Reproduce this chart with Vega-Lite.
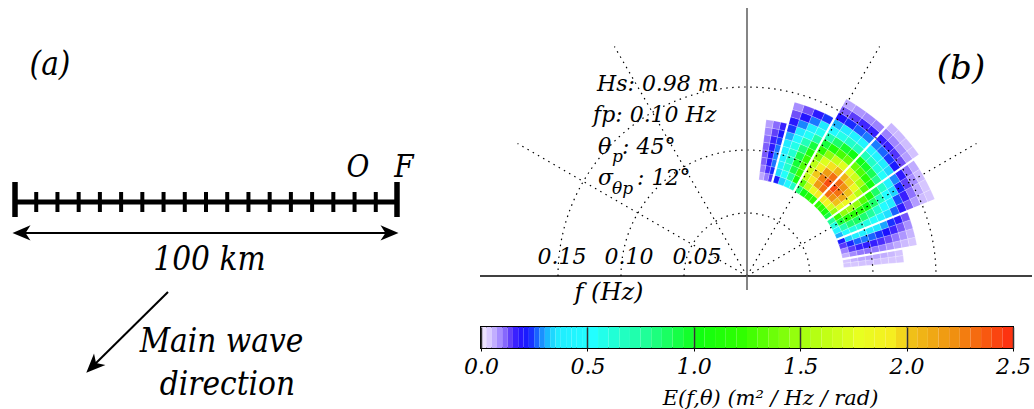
{
"$schema": "https://vega.github.io/schema/vega-lite/v6.json",
"padding": 0,
"bounds": "flush",
"spacing": 0,
"config": {"view": {"stroke": null}},
"hconcat": [
{
"width": 481, "height": 409,
"layer": [
{"data": {"values": [{"x1": 0, "x2": 100, "y": 0}]},
 "mark": {"type": "rule", "strokeWidth": 5, "color": "black"},
 "encoding": {"x": {"field": "x1", "type": "quantitative", "scale": {"domain": [-3.927, 121.99], "nice": false, "zero": false}, "axis": null}, "x2": {"field": "x2"},
  "y": {"field": "y", "type": "quantitative", "scale": {"domain": [-54.19, 52.88], "nice": false, "zero": false}, "axis": null}}},
{"data": {"values": [{"km": 0}, {"km": 100}]},
 "mark": {"type": "rule", "strokeWidth": 5.5, "color": "black"},
 "encoding": {"x": {"field": "km", "type": "quantitative", "scale": {"domain": [-3.927, 121.99], "nice": false, "zero": false}, "axis": null},
  "y": {"datum": -3.93, "type": "quantitative", "scale": {"domain": [-54.19, 52.88], "nice": false, "zero": false}, "axis": null}, "y2": {"datum": 5.24}}},
{"data": {"values": [{"km": 5.556}, {"km": 11.111}, {"km": 16.667}, {"km": 22.222}, {"km": 27.778}, {"km": 33.333}, {"km": 38.889}, {"km": 44.444}, {"km": 50}, {"km": 55.556}, {"km": 61.111}, {"km": 66.667}, {"km": 72.222}, {"km": 77.778}, {"km": 83.333}, {"km": 88.889}, {"km": 94.444}]},
 "mark": {"type": "rule", "strokeWidth": 4, "color": "black"},
 "encoding": {"x": {"field": "km", "type": "quantitative", "scale": {"domain": [-3.927, 121.99], "nice": false, "zero": false}, "axis": null},
  "y": {"datum": -2.62, "type": "quantitative", "scale": {"domain": [-54.19, 52.88], "nice": false, "zero": false}, "axis": null}, "y2": {"datum": 2.62}}},
{"data": {"values": [{"x1": 0.5, "x2": 99.5, "y": -8.1}]},
 "mark": {"type": "rule", "strokeWidth": 2, "color": "black"},
 "encoding": {"x": {"field": "x1", "type": "quantitative", "scale": {"domain": [-3.927, 121.99], "nice": false, "zero": false}, "axis": null}, "x2": {"field": "x2"},
  "y": {"field": "y", "type": "quantitative", "scale": {"domain": [-54.19, 52.88], "nice": false, "zero": false}, "axis": null}}},
{"data": {"values": [{"x1": 40.05, "y1": -23.56, "x2": 20.42, "y2": -42.93}]},
 "mark": {"type": "rule", "strokeWidth": 2, "color": "black"},
 "encoding": {"x": {"field": "x1", "type": "quantitative", "scale": {"domain": [-3.927, 121.99], "nice": false, "zero": false}, "axis": null}, "x2": {"field": "x2"},
  "y": {"field": "y1", "type": "quantitative", "scale": {"domain": [-54.19, 52.88], "nice": false, "zero": false}, "axis": null}, "y2": {"field": "y2"}}},
{"data": {"values": [{"x": 1.7, "y": -8.1}]},
 "mark": {"type": "point", "shape": "M -1 0 L 1 -0.85 L 0.45 0 L 1 0.85 Z", "filled": true, "color": "black", "size": 324, "opacity": 1},
 "encoding": {"x": {"field": "x", "type": "quantitative", "scale": {"domain": [-3.927, 121.99], "nice": false, "zero": false}, "axis": null},
  "y": {"field": "y", "type": "quantitative", "scale": {"domain": [-54.19, 52.88], "nice": false, "zero": false}, "axis": null}}},
{"data": {"values": [{"x": 98.04, "y": -8.1}]},
 "mark": {"type": "point", "shape": "M -1 0 L 1 -0.85 L 0.45 0 L 1 0.85 Z", "filled": true, "color": "black", "size": 324, "opacity": 1, "angle": 180},
 "encoding": {"x": {"field": "x", "type": "quantitative", "scale": {"domain": [-3.927, 121.99], "nice": false, "zero": false}, "axis": null},
  "y": {"field": "y", "type": "quantitative", "scale": {"domain": [-54.19, 52.88], "nice": false, "zero": false}, "axis": null}}},
{"data": {"values": [{"x": 20.42, "y": -42.93}]},
 "mark": {"type": "point", "shape": "M -1 0 L 1 -0.85 L 0.45 0 L 1 0.85 Z", "filled": true, "color": "black", "size": 361, "opacity": 1, "angle": 315},
 "encoding": {"x": {"field": "x", "type": "quantitative", "scale": {"domain": [-3.927, 121.99], "nice": false, "zero": false}, "axis": null},
  "y": {"field": "y", "type": "quantitative", "scale": {"domain": [-54.19, 52.88], "nice": false, "zero": false}, "axis": null}}},
{"data": {"values": [{"x": 9.16, "y": 33.25, "t": "(a)"}, {"x": 50.9, "y": -17.8, "t": "100 km"}, {"x": 54.06, "y": -39.27, "t": "Main wave"}, {"x": 55.6, "y": -50.5, "t": "direction"}]},
 "mark": {"type": "text", "font": "DejaVu Serif Condensed, DejaVu Serif", "fontStyle": "italic", "fontSize": 33, "align": "center", "baseline": "alphabetic", "color": "black"},
 "encoding": {"x": {"field": "x", "type": "quantitative", "scale": {"domain": [-3.927, 121.99], "nice": false, "zero": false}, "axis": null},
  "y": {"field": "y", "type": "quantitative", "scale": {"domain": [-54.19, 52.88], "nice": false, "zero": false}, "axis": null}, "text": {"field": "t"}}},
{"data": {"values": [{"x": 89.8, "y": 6.54, "t": "O"}, {"x": 101.8, "y": 6.54, "t": "F"}]},
 "mark": {"type": "text", "font": "DejaVu Serif Condensed, DejaVu Serif", "fontStyle": "italic", "fontSize": 31, "align": "center", "baseline": "alphabetic", "color": "black"},
 "encoding": {"x": {"field": "x", "type": "quantitative", "scale": {"domain": [-3.927, 121.99], "nice": false, "zero": false}, "axis": null},
  "y": {"field": "y", "type": "quantitative", "scale": {"domain": [-54.19, 52.88], "nice": false, "zero": false}, "axis": null}, "text": {"field": "t"}}}
]
},
{
"spacing": 0,
"bounds": "flush",
"vconcat": [
{
"width": 553, "height": 327,
"layer": [
{"data": {"values": [
{"a0":5,"a1":7.5,"f0":0.077,"f1":0.083,"E":0.03},{"a0":5,"a1":7.5,"f0":0.083,"f1":0.089,"E":0.03},{"a0":5,"a1":7.5,"f0":0.089,"f1":0.095,"E":0.034},{"a0":5,"a1":7.5,"f0":0.095,"f1":0.101,"E":0.035},{"a0":5,"a1":7.5,"f0":0.101,"f1":0.107,"E":0.034},{"a0":5,"a1":7.5,"f0":0.107,"f1":0.113,"E":0.03},{"a0":5,"a1":7.5,"f0":0.113,"f1":0.119,"E":0.03},{"a0":5,"a1":7.5,"f0":0.119,"f1":0.125,"E":0.03},
{"a0":7.5,"a1":10,"f0":0.077,"f1":0.083,"E":0.03},{"a0":7.5,"a1":10,"f0":0.083,"f1":0.089,"E":0.046},{"a0":7.5,"a1":10,"f0":0.089,"f1":0.095,"E":0.056},{"a0":7.5,"a1":10,"f0":0.095,"f1":0.101,"E":0.058},{"a0":7.5,"a1":10,"f0":0.101,"f1":0.107,"E":0.056},{"a0":7.5,"a1":10,"f0":0.107,"f1":0.113,"E":0.05},{"a0":7.5,"a1":10,"f0":0.113,"f1":0.119,"E":0.042},{"a0":7.5,"a1":10,"f0":0.119,"f1":0.125,"E":0.032},
{"a0":10,"a1":13,"f0":0.077,"f1":0.083,"E":0.048},{"a0":10,"a1":13,"f0":0.083,"f1":0.089,"E":0.077},{"a0":10,"a1":13,"f0":0.089,"f1":0.095,"E":0.092},{"a0":10,"a1":13,"f0":0.095,"f1":0.101,"E":0.096},{"a0":10,"a1":13,"f0":0.101,"f1":0.107,"E":0.092},{"a0":10,"a1":13,"f0":0.107,"f1":0.113,"E":0.083},{"a0":10,"a1":13,"f0":0.113,"f1":0.119,"E":0.069},{"a0":10,"a1":13,"f0":0.119,"f1":0.125,"E":0.054},{"a0":10,"a1":13,"f0":0.125,"f1":0.131,"E":0.04},{"a0":10,"a1":13,"f0":0.131,"f1":0.137,"E":0.03},
{"a0":13,"a1":16,"f0":0.077,"f1":0.083,"E":0.082},{"a0":13,"a1":16,"f0":0.083,"f1":0.089,"E":0.13},{"a0":13,"a1":16,"f0":0.089,"f1":0.095,"E":0.156},{"a0":13,"a1":16,"f0":0.095,"f1":0.101,"E":0.163},{"a0":13,"a1":16,"f0":0.101,"f1":0.107,"E":0.156},{"a0":13,"a1":16,"f0":0.107,"f1":0.113,"E":0.14},{"a0":13,"a1":16,"f0":0.113,"f1":0.119,"E":0.117},{"a0":13,"a1":16,"f0":0.119,"f1":0.125,"E":0.091},{"a0":13,"a1":16,"f0":0.125,"f1":0.131,"E":0.068},{"a0":13,"a1":16,"f0":0.131,"f1":0.137,"E":0.046},
{"a0":16,"a1":19,"f0":0.077,"f1":0.083,"E":0.131},{"a0":16,"a1":19,"f0":0.083,"f1":0.089,"E":0.21},{"a0":16,"a1":19,"f0":0.089,"f1":0.095,"E":0.25},{"a0":16,"a1":19,"f0":0.095,"f1":0.101,"E":0.262},{"a0":16,"a1":19,"f0":0.101,"f1":0.107,"E":0.25},{"a0":16,"a1":19,"f0":0.107,"f1":0.113,"E":0.225},{"a0":16,"a1":19,"f0":0.113,"f1":0.119,"E":0.189},{"a0":16,"a1":19,"f0":0.119,"f1":0.125,"E":0.147},{"a0":16,"a1":19,"f0":0.125,"f1":0.131,"E":0.11},{"a0":16,"a1":19,"f0":0.131,"f1":0.137,"E":0.073},
{"a0":19,"a1":22,"f0":0.077,"f1":0.083,"E":0.2},{"a0":19,"a1":22,"f0":0.083,"f1":0.089,"E":0.32},{"a0":19,"a1":22,"f0":0.089,"f1":0.095,"E":0.384},{"a0":19,"a1":22,"f0":0.095,"f1":0.101,"E":0.4},{"a0":19,"a1":22,"f0":0.101,"f1":0.107,"E":0.384},{"a0":19,"a1":22,"f0":0.107,"f1":0.113,"E":0.344},{"a0":19,"a1":22,"f0":0.113,"f1":0.119,"E":0.288},{"a0":19,"a1":22,"f0":0.119,"f1":0.125,"E":0.224},{"a0":19,"a1":22,"f0":0.125,"f1":0.131,"E":0.168},{"a0":19,"a1":22,"f0":0.131,"f1":0.137,"E":0.112},
{"a0":22,"a1":25.25,"f0":0.077,"f1":0.083,"E":0.297},{"a0":22,"a1":25.25,"f0":0.083,"f1":0.089,"E":0.474},{"a0":22,"a1":25.25,"f0":0.089,"f1":0.095,"E":0.569},{"a0":22,"a1":25.25,"f0":0.095,"f1":0.101,"E":0.593},{"a0":22,"a1":25.25,"f0":0.101,"f1":0.107,"E":0.569},{"a0":22,"a1":25.25,"f0":0.107,"f1":0.113,"E":0.51},{"a0":22,"a1":25.25,"f0":0.113,"f1":0.119,"E":0.427},{"a0":22,"a1":25.25,"f0":0.119,"f1":0.125,"E":0.332},{"a0":22,"a1":25.25,"f0":0.125,"f1":0.131,"E":0.249},{"a0":22,"a1":25.25,"f0":0.131,"f1":0.137,"E":0.166},{"a0":22,"a1":25.25,"f0":0.137,"f1":0.143,"E":0.107},{"a0":22,"a1":25.25,"f0":0.143,"f1":0.149,"E":0.065},{"a0":22,"a1":25.25,"f0":0.149,"f1":0.155,"E":0.039},{"a0":22,"a1":25.25,"f0":0.155,"f1":0.161,"E":0.03},
{"a0":25.25,"a1":28.5,"f0":0.077,"f1":0.083,"E":0.429},{"a0":25.25,"a1":28.5,"f0":0.083,"f1":0.089,"E":0.686},{"a0":25.25,"a1":28.5,"f0":0.089,"f1":0.095,"E":0.823},{"a0":25.25,"a1":28.5,"f0":0.095,"f1":0.101,"E":0.857},{"a0":25.25,"a1":28.5,"f0":0.101,"f1":0.107,"E":0.823},{"a0":25.25,"a1":28.5,"f0":0.107,"f1":0.113,"E":0.737},{"a0":25.25,"a1":28.5,"f0":0.113,"f1":0.119,"E":0.617},{"a0":25.25,"a1":28.5,"f0":0.119,"f1":0.125,"E":0.48},{"a0":25.25,"a1":28.5,"f0":0.125,"f1":0.131,"E":0.36},{"a0":25.25,"a1":28.5,"f0":0.131,"f1":0.137,"E":0.24},{"a0":25.25,"a1":28.5,"f0":0.137,"f1":0.143,"E":0.154},{"a0":25.25,"a1":28.5,"f0":0.143,"f1":0.149,"E":0.094},{"a0":25.25,"a1":28.5,"f0":0.149,"f1":0.155,"E":0.056},{"a0":25.25,"a1":28.5,"f0":0.155,"f1":0.161,"E":0.03},
{"a0":28.5,"a1":31.75,"f0":0.077,"f1":0.083,"E":0.579},{"a0":28.5,"a1":31.75,"f0":0.083,"f1":0.089,"E":0.926},{"a0":28.5,"a1":31.75,"f0":0.089,"f1":0.095,"E":1.111},{"a0":28.5,"a1":31.75,"f0":0.095,"f1":0.101,"E":1.157},{"a0":28.5,"a1":31.75,"f0":0.101,"f1":0.107,"E":1.111},{"a0":28.5,"a1":31.75,"f0":0.107,"f1":0.113,"E":0.995},{"a0":28.5,"a1":31.75,"f0":0.113,"f1":0.119,"E":0.833},{"a0":28.5,"a1":31.75,"f0":0.119,"f1":0.125,"E":0.648},{"a0":28.5,"a1":31.75,"f0":0.125,"f1":0.131,"E":0.486},{"a0":28.5,"a1":31.75,"f0":0.131,"f1":0.137,"E":0.324},{"a0":28.5,"a1":31.75,"f0":0.137,"f1":0.143,"E":0.208},{"a0":28.5,"a1":31.75,"f0":0.143,"f1":0.149,"E":0.127},{"a0":28.5,"a1":31.75,"f0":0.149,"f1":0.155,"E":0.075},{"a0":28.5,"a1":31.75,"f0":0.155,"f1":0.161,"E":0.04},
{"a0":31.75,"a1":35,"f0":0.077,"f1":0.083,"E":0.749},{"a0":31.75,"a1":35,"f0":0.083,"f1":0.089,"E":1.198},{"a0":31.75,"a1":35,"f0":0.089,"f1":0.095,"E":1.438},{"a0":31.75,"a1":35,"f0":0.095,"f1":0.101,"E":1.498},{"a0":31.75,"a1":35,"f0":0.101,"f1":0.107,"E":1.438},{"a0":31.75,"a1":35,"f0":0.107,"f1":0.113,"E":1.288},{"a0":31.75,"a1":35,"f0":0.113,"f1":0.119,"E":1.079},{"a0":31.75,"a1":35,"f0":0.119,"f1":0.125,"E":0.839},{"a0":31.75,"a1":35,"f0":0.125,"f1":0.131,"E":0.629},{"a0":31.75,"a1":35,"f0":0.131,"f1":0.137,"E":0.419},{"a0":31.75,"a1":35,"f0":0.137,"f1":0.143,"E":0.27},{"a0":31.75,"a1":35,"f0":0.143,"f1":0.149,"E":0.165},{"a0":31.75,"a1":35,"f0":0.149,"f1":0.155,"E":0.097},{"a0":31.75,"a1":35,"f0":0.155,"f1":0.161,"E":0.052},
{"a0":35,"a1":38,"f0":0.077,"f1":0.083,"E":0.905},{"a0":35,"a1":38,"f0":0.083,"f1":0.089,"E":1.448},{"a0":35,"a1":38,"f0":0.089,"f1":0.095,"E":1.738},{"a0":35,"a1":38,"f0":0.095,"f1":0.101,"E":1.81},{"a0":35,"a1":38,"f0":0.101,"f1":0.107,"E":1.738},{"a0":35,"a1":38,"f0":0.107,"f1":0.113,"E":1.557},{"a0":35,"a1":38,"f0":0.113,"f1":0.119,"E":1.303},{"a0":35,"a1":38,"f0":0.119,"f1":0.125,"E":1.014},{"a0":35,"a1":38,"f0":0.125,"f1":0.131,"E":0.76},{"a0":35,"a1":38,"f0":0.131,"f1":0.137,"E":0.507},{"a0":35,"a1":38,"f0":0.137,"f1":0.143,"E":0.326},{"a0":35,"a1":38,"f0":0.143,"f1":0.149,"E":0.199},{"a0":35,"a1":38,"f0":0.149,"f1":0.155,"E":0.118},{"a0":35,"a1":38,"f0":0.155,"f1":0.161,"E":0.063},{"a0":35,"a1":38,"f0":0.161,"f1":0.167,"E":0.033},
{"a0":38,"a1":41,"f0":0.077,"f1":0.083,"E":1.04},{"a0":38,"a1":41,"f0":0.083,"f1":0.089,"E":1.664},{"a0":38,"a1":41,"f0":0.089,"f1":0.095,"E":1.997},{"a0":38,"a1":41,"f0":0.095,"f1":0.101,"E":2.08},{"a0":38,"a1":41,"f0":0.101,"f1":0.107,"E":1.997},{"a0":38,"a1":41,"f0":0.107,"f1":0.113,"E":1.789},{"a0":38,"a1":41,"f0":0.113,"f1":0.119,"E":1.498},{"a0":38,"a1":41,"f0":0.119,"f1":0.125,"E":1.165},{"a0":38,"a1":41,"f0":0.125,"f1":0.131,"E":0.874},{"a0":38,"a1":41,"f0":0.131,"f1":0.137,"E":0.582},{"a0":38,"a1":41,"f0":0.137,"f1":0.143,"E":0.374},{"a0":38,"a1":41,"f0":0.143,"f1":0.149,"E":0.229},{"a0":38,"a1":41,"f0":0.149,"f1":0.155,"E":0.135},{"a0":38,"a1":41,"f0":0.155,"f1":0.161,"E":0.073},{"a0":38,"a1":41,"f0":0.161,"f1":0.167,"E":0.037},
{"a0":41,"a1":44,"f0":0.077,"f1":0.083,"E":1.14},{"a0":41,"a1":44,"f0":0.083,"f1":0.089,"E":1.824},{"a0":41,"a1":44,"f0":0.089,"f1":0.095,"E":2.189},{"a0":41,"a1":44,"f0":0.095,"f1":0.101,"E":2.28},{"a0":41,"a1":44,"f0":0.101,"f1":0.107,"E":2.189},{"a0":41,"a1":44,"f0":0.107,"f1":0.113,"E":1.961},{"a0":41,"a1":44,"f0":0.113,"f1":0.119,"E":1.642},{"a0":41,"a1":44,"f0":0.119,"f1":0.125,"E":1.277},{"a0":41,"a1":44,"f0":0.125,"f1":0.131,"E":0.958},{"a0":41,"a1":44,"f0":0.131,"f1":0.137,"E":0.638},{"a0":41,"a1":44,"f0":0.137,"f1":0.143,"E":0.41},{"a0":41,"a1":44,"f0":0.143,"f1":0.149,"E":0.251},{"a0":41,"a1":44,"f0":0.149,"f1":0.155,"E":0.148},{"a0":41,"a1":44,"f0":0.155,"f1":0.161,"E":0.08},{"a0":41,"a1":44,"f0":0.161,"f1":0.167,"E":0.041},
{"a0":44,"a1":47,"f0":0.077,"f1":0.083,"E":1.195},{"a0":44,"a1":47,"f0":0.083,"f1":0.089,"E":1.912},{"a0":44,"a1":47,"f0":0.089,"f1":0.095,"E":2.294},{"a0":44,"a1":47,"f0":0.095,"f1":0.101,"E":2.39},{"a0":44,"a1":47,"f0":0.101,"f1":0.107,"E":2.294},{"a0":44,"a1":47,"f0":0.107,"f1":0.113,"E":2.055},{"a0":44,"a1":47,"f0":0.113,"f1":0.119,"E":1.721},{"a0":44,"a1":47,"f0":0.119,"f1":0.125,"E":1.338},{"a0":44,"a1":47,"f0":0.125,"f1":0.131,"E":1.004},{"a0":44,"a1":47,"f0":0.131,"f1":0.137,"E":0.669},{"a0":44,"a1":47,"f0":0.137,"f1":0.143,"E":0.43},{"a0":44,"a1":47,"f0":0.143,"f1":0.149,"E":0.263},{"a0":44,"a1":47,"f0":0.149,"f1":0.155,"E":0.155},{"a0":44,"a1":47,"f0":0.155,"f1":0.161,"E":0.084},{"a0":44,"a1":47,"f0":0.161,"f1":0.167,"E":0.043},
{"a0":47,"a1":50.5,"f0":0.077,"f1":0.083,"E":1.19},{"a0":47,"a1":50.5,"f0":0.083,"f1":0.089,"E":1.904},{"a0":47,"a1":50.5,"f0":0.089,"f1":0.095,"E":2.285},{"a0":47,"a1":50.5,"f0":0.095,"f1":0.101,"E":2.38},{"a0":47,"a1":50.5,"f0":0.101,"f1":0.107,"E":2.285},{"a0":47,"a1":50.5,"f0":0.107,"f1":0.113,"E":2.047},{"a0":47,"a1":50.5,"f0":0.113,"f1":0.119,"E":1.714},{"a0":47,"a1":50.5,"f0":0.119,"f1":0.125,"E":1.333},{"a0":47,"a1":50.5,"f0":0.125,"f1":0.131,"E":1.0},{"a0":47,"a1":50.5,"f0":0.131,"f1":0.137,"E":0.666},{"a0":47,"a1":50.5,"f0":0.137,"f1":0.143,"E":0.428},{"a0":47,"a1":50.5,"f0":0.143,"f1":0.149,"E":0.262},{"a0":47,"a1":50.5,"f0":0.149,"f1":0.155,"E":0.155},{"a0":47,"a1":50.5,"f0":0.155,"f1":0.161,"E":0.083},
{"a0":50.5,"a1":54,"f0":0.077,"f1":0.083,"E":1.12},{"a0":50.5,"a1":54,"f0":0.083,"f1":0.089,"E":1.792},{"a0":50.5,"a1":54,"f0":0.089,"f1":0.095,"E":2.15},{"a0":50.5,"a1":54,"f0":0.095,"f1":0.101,"E":2.24},{"a0":50.5,"a1":54,"f0":0.101,"f1":0.107,"E":2.15},{"a0":50.5,"a1":54,"f0":0.107,"f1":0.113,"E":1.926},{"a0":50.5,"a1":54,"f0":0.113,"f1":0.119,"E":1.613},{"a0":50.5,"a1":54,"f0":0.119,"f1":0.125,"E":1.254},{"a0":50.5,"a1":54,"f0":0.125,"f1":0.131,"E":0.941},{"a0":50.5,"a1":54,"f0":0.131,"f1":0.137,"E":0.627},{"a0":50.5,"a1":54,"f0":0.137,"f1":0.143,"E":0.403},{"a0":50.5,"a1":54,"f0":0.143,"f1":0.149,"E":0.246},{"a0":50.5,"a1":54,"f0":0.149,"f1":0.155,"E":0.146},{"a0":50.5,"a1":54,"f0":0.155,"f1":0.161,"E":0.078},
{"a0":54,"a1":57.5,"f0":0.077,"f1":0.083,"E":0.99},{"a0":54,"a1":57.5,"f0":0.083,"f1":0.089,"E":1.584},{"a0":54,"a1":57.5,"f0":0.089,"f1":0.095,"E":1.901},{"a0":54,"a1":57.5,"f0":0.095,"f1":0.101,"E":1.98},{"a0":54,"a1":57.5,"f0":0.101,"f1":0.107,"E":1.901},{"a0":54,"a1":57.5,"f0":0.107,"f1":0.113,"E":1.703},{"a0":54,"a1":57.5,"f0":0.113,"f1":0.119,"E":1.426},{"a0":54,"a1":57.5,"f0":0.119,"f1":0.125,"E":1.109},{"a0":54,"a1":57.5,"f0":0.125,"f1":0.131,"E":0.832},{"a0":54,"a1":57.5,"f0":0.131,"f1":0.137,"E":0.554},{"a0":54,"a1":57.5,"f0":0.137,"f1":0.143,"E":0.356},{"a0":54,"a1":57.5,"f0":0.143,"f1":0.149,"E":0.218},{"a0":54,"a1":57.5,"f0":0.149,"f1":0.155,"E":0.129},{"a0":54,"a1":57.5,"f0":0.155,"f1":0.161,"E":0.069},
{"a0":57.5,"a1":61,"f0":0.077,"f1":0.083,"E":0.82},{"a0":57.5,"a1":61,"f0":0.083,"f1":0.089,"E":1.312},{"a0":57.5,"a1":61,"f0":0.089,"f1":0.095,"E":1.574},{"a0":57.5,"a1":61,"f0":0.095,"f1":0.101,"E":1.64},{"a0":57.5,"a1":61,"f0":0.101,"f1":0.107,"E":1.574},{"a0":57.5,"a1":61,"f0":0.107,"f1":0.113,"E":1.41},{"a0":57.5,"a1":61,"f0":0.113,"f1":0.119,"E":1.181},{"a0":57.5,"a1":61,"f0":0.119,"f1":0.125,"E":0.918},{"a0":57.5,"a1":61,"f0":0.125,"f1":0.131,"E":0.689},{"a0":57.5,"a1":61,"f0":0.131,"f1":0.137,"E":0.459},{"a0":57.5,"a1":61,"f0":0.137,"f1":0.143,"E":0.295},{"a0":57.5,"a1":61,"f0":0.143,"f1":0.149,"E":0.18},{"a0":57.5,"a1":61,"f0":0.149,"f1":0.155,"E":0.107},{"a0":57.5,"a1":61,"f0":0.155,"f1":0.161,"E":0.057},
{"a0":61,"a1":64.5,"f0":0.077,"f1":0.083,"E":0.635},{"a0":61,"a1":64.5,"f0":0.083,"f1":0.089,"E":1.016},{"a0":61,"a1":64.5,"f0":0.089,"f1":0.095,"E":1.219},{"a0":61,"a1":64.5,"f0":0.095,"f1":0.101,"E":1.27},{"a0":61,"a1":64.5,"f0":0.101,"f1":0.107,"E":1.219},{"a0":61,"a1":64.5,"f0":0.107,"f1":0.113,"E":1.092},{"a0":61,"a1":64.5,"f0":0.113,"f1":0.119,"E":0.914},{"a0":61,"a1":64.5,"f0":0.119,"f1":0.125,"E":0.711},{"a0":61,"a1":64.5,"f0":0.125,"f1":0.131,"E":0.533},{"a0":61,"a1":64.5,"f0":0.131,"f1":0.137,"E":0.356},{"a0":61,"a1":64.5,"f0":0.137,"f1":0.143,"E":0.229},
{"a0":64.5,"a1":68,"f0":0.077,"f1":0.083,"E":0.465},{"a0":64.5,"a1":68,"f0":0.083,"f1":0.089,"E":0.744},{"a0":64.5,"a1":68,"f0":0.089,"f1":0.095,"E":0.893},{"a0":64.5,"a1":68,"f0":0.095,"f1":0.101,"E":0.93},{"a0":64.5,"a1":68,"f0":0.101,"f1":0.107,"E":0.893},{"a0":64.5,"a1":68,"f0":0.107,"f1":0.113,"E":0.8},{"a0":64.5,"a1":68,"f0":0.113,"f1":0.119,"E":0.67},{"a0":64.5,"a1":68,"f0":0.119,"f1":0.125,"E":0.521},{"a0":64.5,"a1":68,"f0":0.125,"f1":0.131,"E":0.391},{"a0":64.5,"a1":68,"f0":0.131,"f1":0.137,"E":0.26},{"a0":64.5,"a1":68,"f0":0.137,"f1":0.143,"E":0.167},
{"a0":68,"a1":71.5,"f0":0.077,"f1":0.083,"E":0.32},{"a0":68,"a1":71.5,"f0":0.083,"f1":0.089,"E":0.512},{"a0":68,"a1":71.5,"f0":0.089,"f1":0.095,"E":0.614},{"a0":68,"a1":71.5,"f0":0.095,"f1":0.101,"E":0.64},{"a0":68,"a1":71.5,"f0":0.101,"f1":0.107,"E":0.614},{"a0":68,"a1":71.5,"f0":0.107,"f1":0.113,"E":0.55},{"a0":68,"a1":71.5,"f0":0.113,"f1":0.119,"E":0.461},{"a0":68,"a1":71.5,"f0":0.119,"f1":0.125,"E":0.358},{"a0":68,"a1":71.5,"f0":0.125,"f1":0.131,"E":0.269},{"a0":68,"a1":71.5,"f0":0.131,"f1":0.137,"E":0.179},{"a0":68,"a1":71.5,"f0":0.137,"f1":0.143,"E":0.115},
{"a0":71.5,"a1":75,"f0":0.077,"f1":0.083,"E":0.205},{"a0":71.5,"a1":75,"f0":0.083,"f1":0.089,"E":0.328},{"a0":71.5,"a1":75,"f0":0.089,"f1":0.095,"E":0.394},{"a0":71.5,"a1":75,"f0":0.095,"f1":0.101,"E":0.41},{"a0":71.5,"a1":75,"f0":0.101,"f1":0.107,"E":0.394},{"a0":71.5,"a1":75,"f0":0.107,"f1":0.113,"E":0.353},{"a0":71.5,"a1":75,"f0":0.113,"f1":0.119,"E":0.295},{"a0":71.5,"a1":75,"f0":0.119,"f1":0.125,"E":0.23},{"a0":71.5,"a1":75,"f0":0.125,"f1":0.131,"E":0.172},{"a0":71.5,"a1":75,"f0":0.131,"f1":0.137,"E":0.115},{"a0":71.5,"a1":75,"f0":0.137,"f1":0.143,"E":0.074},
{"a0":75,"a1":77.67,"f0":0.077,"f1":0.083,"E":0.135},{"a0":75,"a1":77.67,"f0":0.083,"f1":0.089,"E":0.216},{"a0":75,"a1":77.67,"f0":0.089,"f1":0.095,"E":0.259},{"a0":75,"a1":77.67,"f0":0.095,"f1":0.101,"E":0.27},{"a0":75,"a1":77.67,"f0":0.101,"f1":0.107,"E":0.259},{"a0":75,"a1":77.67,"f0":0.107,"f1":0.113,"E":0.232},{"a0":75,"a1":77.67,"f0":0.113,"f1":0.119,"E":0.194},{"a0":75,"a1":77.67,"f0":0.119,"f1":0.125,"E":0.151},
{"a0":77.67,"a1":80.33,"f0":0.077,"f1":0.083,"E":0.088},{"a0":77.67,"a1":80.33,"f0":0.083,"f1":0.089,"E":0.14},{"a0":77.67,"a1":80.33,"f0":0.089,"f1":0.095,"E":0.168},{"a0":77.67,"a1":80.33,"f0":0.095,"f1":0.101,"E":0.175},{"a0":77.67,"a1":80.33,"f0":0.101,"f1":0.107,"E":0.168},{"a0":77.67,"a1":80.33,"f0":0.107,"f1":0.113,"E":0.151},{"a0":77.67,"a1":80.33,"f0":0.113,"f1":0.119,"E":0.126},{"a0":77.67,"a1":80.33,"f0":0.119,"f1":0.125,"E":0.098},
{"a0":80.33,"a1":83,"f0":0.077,"f1":0.083,"E":0.055},{"a0":80.33,"a1":83,"f0":0.083,"f1":0.089,"E":0.088},{"a0":80.33,"a1":83,"f0":0.089,"f1":0.095,"E":0.106},{"a0":80.33,"a1":83,"f0":0.095,"f1":0.101,"E":0.11},{"a0":80.33,"a1":83,"f0":0.101,"f1":0.107,"E":0.106},{"a0":80.33,"a1":83,"f0":0.107,"f1":0.113,"E":0.095},{"a0":80.33,"a1":83,"f0":0.113,"f1":0.119,"E":0.079},{"a0":80.33,"a1":83,"f0":0.119,"f1":0.125,"E":0.062}
]},
 "mark": {"type": "arc", "stroke": "white", "strokeWidth": 0.4, "strokeOpacity": 0.5},
 "encoding": {
  "x": {"datum": 0, "type": "quantitative", "scale": {"domain": [-0.211111, 0.227778], "nice": false, "zero": false}, "axis": null},
  "y": {"datum": 0, "type": "quantitative", "scale": {"domain": [-0.040476, 0.219048], "nice": false, "zero": false}, "axis": null},
  "theta": {"field": "a0", "type": "quantitative", "stack": null, "scale": {"type": "linear", "domain": [0, 360], "range": [1.5707963, -4.712389], "zero": false, "nice": false}},
  "theta2": {"field": "a1"},
  "radius": {"field": "f0", "type": "quantitative", "scale": {"type": "linear", "domain": [0, 0.15], "range": [0, 189], "zero": true, "nice": false}},
  "radius2": {"field": "f1"},
  "color": {"field": "E", "type": "quantitative", "legend": null, "scale": {"type": "linear", "interpolate": "rgb", "domain": [0, 0.03, 0.06, 0.09, 0.12, 0.15, 0.19, 0.23, 0.26, 0.3, 0.34, 0.5, 0.75, 1.0, 1.2, 1.5, 1.75, 1.9, 2.0, 2.2, 2.5], "range": ["#ede2ff", "#d6c6ff", "#b8a2ff", "#9478ff", "#6a48f8", "#3a20ff", "#1a10ff", "#1838ff", "#1a78ff", "#1ab8ff", "#20eaff", "#22ffff", "#20ff98", "#10ff10", "#30ff00", "#a8ff10", "#e8ff20", "#f5ee20", "#f0c018", "#f09010", "#ff2010"]}}
 }},
{"data": {"values": [{"a0": 10, "a1": 10, "f0": 0.075, "f1": 0.168}, {"a0": 22, "a1": 22, "f0": 0.075, "f1": 0.168}, {"a0": 35, "a1": 35, "f0": 0.075, "f1": 0.168}, {"a0": 47, "a1": 47, "f0": 0.075, "f1": 0.168}, {"a0": 61, "a1": 61, "f0": 0.075, "f1": 0.168}, {"a0": 75, "a1": 75, "f0": 0.075, "f1": 0.168}]},
 "mark": {"type": "arc", "stroke": "white", "strokeWidth": 2.2, "fill": "white"},
 "encoding": {
  "x": {"datum": 0, "type": "quantitative", "scale": {"domain": [-0.211111, 0.227778], "nice": false, "zero": false}, "axis": null},
  "y": {"datum": 0, "type": "quantitative", "scale": {"domain": [-0.040476, 0.219048], "nice": false, "zero": false}, "axis": null},
  "theta": {"field": "a0", "type": "quantitative", "stack": null, "scale": {"type": "linear", "domain": [0, 360], "range": [1.5707963, -4.712389], "zero": false, "nice": false}},
  "theta2": {"field": "a1"},
  "radius": {"field": "f0", "type": "quantitative", "scale": {"type": "linear", "domain": [0, 0.15], "range": [0, 189], "zero": true, "nice": false}},
  "radius2": {"field": "f1"}
 }},
{"data": {"values": [{"r": 0.05}, {"r": 0.1}, {"r": 0.15}]},
 "mark": {"type": "point", "shape": "M -1 0 C -1 -0.5523 -0.5523 -1 0 -1 C 0.5523 -1 1 -0.5523 1 0", "filled": false, "color": "black", "strokeWidth": 1.2, "strokeDash": [1.5, 4.5], "opacity": 1},
 "encoding": {
  "x": {"datum": 0, "type": "quantitative", "scale": {"domain": [-0.211111, 0.227778], "nice": false, "zero": false}, "axis": null},
  "y": {"datum": 0, "type": "quantitative", "scale": {"domain": [-0.040476, 0.219048], "nice": false, "zero": false}, "axis": null},
  "size": {"field": "r", "type": "quantitative", "legend": null, "scale": {"type": "pow", "exponent": 2, "domain": [0, 0.15], "range": [0, 142884], "zero": true}}
 }},
{"data": {"values": [{"x1": 0, "y1": 0, "x2": 0.1821, "y2": 0.1052}, {"x1": 0, "y1": 0, "x2": 0.1052, "y2": 0.1821}, {"x1": 0, "y1": 0, "x2": -0.1052, "y2": 0.1821}, {"x1": 0, "y1": 0, "x2": -0.1821, "y2": 0.1052}]},
 "mark": {"type": "rule", "color": "black", "strokeWidth": 1.2, "strokeDash": [1.5, 4.5]},
 "encoding": {
  "x": {"field": "x1", "type": "quantitative", "scale": {"domain": [-0.211111, 0.227778], "nice": false, "zero": false}, "axis": null},
  "y": {"field": "y1", "type": "quantitative", "scale": {"domain": [-0.040476, 0.219048], "nice": false, "zero": false}, "axis": null},
  "x2": {"field": "x2"}, "y2": {"field": "y2"}
 }},
{"data": {"values": [{"x1": -0.2119, "y1": 0, "x2": 0.2262, "y2": 0}]},
 "mark": {"type": "rule", "color": "black", "strokeWidth": 1.3},
 "encoding": {
  "x": {"field": "x1", "type": "quantitative", "scale": {"domain": [-0.211111, 0.227778], "nice": false, "zero": false}, "axis": null},
  "y": {"field": "y1", "type": "quantitative", "scale": {"domain": [-0.040476, 0.219048], "nice": false, "zero": false}, "axis": null},
  "x2": {"field": "x2"}, "y2": {"field": "y2"}
 }},
{"data": {"values": [{"x1": 0, "y1": -0.0111, "x2": 0, "y2": 0.2127}]},
 "mark": {"type": "rule", "color": "#666666", "strokeWidth": 1.6},
 "encoding": {
  "x": {"field": "x1", "type": "quantitative", "scale": {"domain": [-0.211111, 0.227778], "nice": false, "zero": false}, "axis": null},
  "y": {"field": "y1", "type": "quantitative", "scale": {"domain": [-0.040476, 0.219048], "nice": false, "zero": false}, "axis": null},
  "x2": {"field": "x2"}, "y2": {"field": "y2"}
 }},
{"data": {"values": [{"x": -0.11905, "y": 0.14683, "t": "Hs: 0.98 m"}, {"x": -0.12222, "y": 0.12222, "t": "fp: 0.10 Hz"}, {"x": -0.11825, "y": 0.09683, "t": "θ"}, {"x": -0.09921, "y": 0.09683, "t": ": 45°"}, {"x": -0.11825, "y": 0.07222, "t": "σ"}, {"x": -0.08730, "y": 0.07222, "t": ": 12°"}]},
 "mark": {"type": "text", "font": "DejaVu Serif", "fontStyle": "italic", "fontSize": 22, "align": "left", "baseline": "alphabetic", "color": "black"},
 "encoding": {
  "x": {"field": "x", "type": "quantitative", "scale": {"domain": [-0.211111, 0.227778], "nice": false, "zero": false}, "axis": null},
  "y": {"field": "y", "type": "quantitative", "scale": {"domain": [-0.040476, 0.219048], "nice": false, "zero": false}, "axis": null},
  "text": {"field": "t"}
 }},
{"data": {"values": [{"x": -0.10714, "y": 0.09048, "t": "p"}, {"x": -0.10714, "y": 0.06508, "t": "θp"}]},
 "mark": {"type": "text", "font": "DejaVu Serif", "fontStyle": "italic", "fontSize": 17, "align": "left", "baseline": "alphabetic", "color": "black"},
 "encoding": {
  "x": {"field": "x", "type": "quantitative", "scale": {"domain": [-0.211111, 0.227778], "nice": false, "zero": false}, "axis": null},
  "y": {"field": "y", "type": "quantitative", "scale": {"domain": [-0.040476, 0.219048], "nice": false, "zero": false}, "axis": null},
  "text": {"field": "t"}
 }},
{"data": {"values": [{"x": -0.14683, "y": 0.00952, "t": "0.15"}, {"x": -0.09365, "y": 0.00952, "t": "0.10"}, {"x": -0.03968, "y": 0.00952, "t": "0.05"}]},
 "mark": {"type": "text", "font": "DejaVu Serif", "fontStyle": "italic", "fontSize": 22, "align": "center", "baseline": "alphabetic", "color": "black"},
 "encoding": {
  "x": {"field": "x", "type": "quantitative", "scale": {"domain": [-0.211111, 0.227778], "nice": false, "zero": false}, "axis": null},
  "y": {"field": "y", "type": "quantitative", "scale": {"domain": [-0.040476, 0.219048], "nice": false, "zero": false}, "axis": null},
  "text": {"field": "t"}
 }},
{"data": {"values": [{"x": -0.10952, "y": -0.01905, "t": "f (Hz)"}]},
 "mark": {"type": "text", "font": "DejaVu Serif", "fontStyle": "italic", "fontSize": 24, "align": "center", "baseline": "alphabetic", "color": "black"},
 "encoding": {
  "x": {"field": "x", "type": "quantitative", "scale": {"domain": [-0.211111, 0.227778], "nice": false, "zero": false}, "axis": null},
  "y": {"field": "y", "type": "quantitative", "scale": {"domain": [-0.040476, 0.219048], "nice": false, "zero": false}, "axis": null},
  "text": {"field": "t"}
 }},
{"data": {"values": [{"x": 0.16984, "y": 0.15635, "t": "(b)"}]},
 "mark": {"type": "text", "font": "DejaVu Serif", "fontStyle": "italic", "fontSize": 34, "align": "center", "baseline": "alphabetic", "color": "black"},
 "encoding": {
  "x": {"field": "x", "type": "quantitative", "scale": {"domain": [-0.211111, 0.227778], "nice": false, "zero": false}, "axis": null},
  "y": {"field": "y", "type": "quantitative", "scale": {"domain": [-0.040476, 0.219048], "nice": false, "zero": false}, "axis": null},
  "text": {"field": "t"}
 }}
]
},
{
"width": 532, "height": 21,
"view": {"stroke": "black", "strokeWidth": 2},
"data": {"values": [
{"lo":0,"hi":0.025},{"lo":0.025,"hi":0.05},{"lo":0.05,"hi":0.075},{"lo":0.075,"hi":0.1},{"lo":0.1,"hi":0.125},{"lo":0.125,"hi":0.15},{"lo":0.15,"hi":0.175},{"lo":0.175,"hi":0.2},{"lo":0.2,"hi":0.225},{"lo":0.225,"hi":0.25},
{"lo":0.25,"hi":0.275},{"lo":0.275,"hi":0.3},{"lo":0.3,"hi":0.325},{"lo":0.325,"hi":0.35},{"lo":0.35,"hi":0.375},{"lo":0.375,"hi":0.4},{"lo":0.4,"hi":0.425},{"lo":0.425,"hi":0.45},{"lo":0.45,"hi":0.475},{"lo":0.475,"hi":0.5},
{"lo":0.5,"hi":0.55},{"lo":0.55,"hi":0.6},{"lo":0.6,"hi":0.65},{"lo":0.65,"hi":0.7},{"lo":0.7,"hi":0.75},{"lo":0.75,"hi":0.8},{"lo":0.8,"hi":0.85},{"lo":0.85,"hi":0.9},{"lo":0.9,"hi":0.95},{"lo":0.95,"hi":1.0},
{"lo":1.0,"hi":1.05},{"lo":1.05,"hi":1.1},{"lo":1.1,"hi":1.15},{"lo":1.15,"hi":1.2},{"lo":1.2,"hi":1.25},{"lo":1.25,"hi":1.3},{"lo":1.3,"hi":1.35},{"lo":1.35,"hi":1.4},{"lo":1.4,"hi":1.45},{"lo":1.45,"hi":1.5},
{"lo":1.5,"hi":1.55},{"lo":1.55,"hi":1.6},{"lo":1.6,"hi":1.65},{"lo":1.65,"hi":1.7},{"lo":1.7,"hi":1.75},{"lo":1.75,"hi":1.8},{"lo":1.8,"hi":1.85},{"lo":1.85,"hi":1.9},{"lo":1.9,"hi":1.95},{"lo":1.95,"hi":2.0},
{"lo":2.0,"hi":2.05},{"lo":2.05,"hi":2.1},{"lo":2.1,"hi":2.15},{"lo":2.15,"hi":2.2},{"lo":2.2,"hi":2.25},{"lo":2.25,"hi":2.3},{"lo":2.3,"hi":2.35},{"lo":2.35,"hi":2.4},{"lo":2.4,"hi":2.45},{"lo":2.45,"hi":2.5}
]},
"mark": {"type": "rect"},
"encoding": {
 "x": {"field": "lo", "type": "quantitative", "scale": {"domain": [0, 2.5], "nice": false, "zero": false},
  "axis": {"values": [0, 0.5, 1, 1.5, 2, 2.5], "format": ".1f", "domain": false, "ticks": true, "tickSize": 3, "tickColor": "black", "grid": true, "gridColor": "#333333", "gridWidth": 1.5, "gridOpacity": 1, "zindex": 1,
   "labelFont": "DejaVu Serif", "labelFontStyle": "italic", "labelFontSize": 22, "labelColor": "black", "labelPadding": 5, "labelFlush": false, "labelOverlap": false,
   "title": "E(f,θ) (m² / Hz / rad)", "titleFont": "DejaVu Serif", "titleFontStyle": "italic", "titleFontWeight": "normal", "titleFontSize": 21, "titleColor": "black", "titleX": 289, "titleY": 56, "titleAlign": "center", "titleBaseline": "alphabetic"}},
 "x2": {"field": "hi"},
 "color": {"field": "lo", "type": "quantitative", "legend": null, "scale": {"type": "linear", "interpolate": "rgb", "domain": [0, 0.03, 0.06, 0.09, 0.12, 0.15, 0.19, 0.23, 0.26, 0.3, 0.34, 0.5, 0.75, 1.0, 1.2, 1.5, 1.75, 1.9, 2.0, 2.2, 2.5], "range": ["#ede2ff", "#d6c6ff", "#b8a2ff", "#9478ff", "#6a48f8", "#3a20ff", "#1a10ff", "#1838ff", "#1a78ff", "#1ab8ff", "#20eaff", "#22ffff", "#20ff98", "#10ff10", "#30ff00", "#a8ff10", "#e8ff20", "#f5ee20", "#f0c018", "#f09010", "#ff2010"]}}
}
}
]
}
]
}
